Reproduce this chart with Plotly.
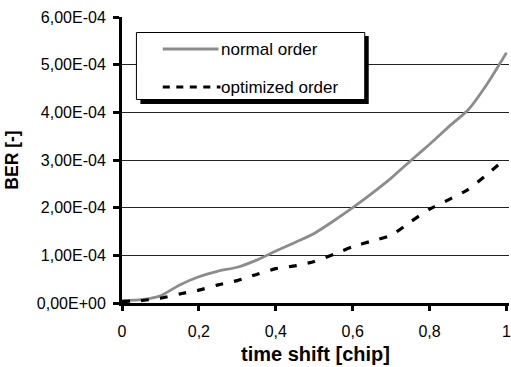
import plotly.graph_objects as go

# time shift in chips
time_shift = [0.00, 0.05, 0.10, 0.15, 0.20, 0.25, 0.30, 0.35, 0.40, 0.45, 0.50,
              0.55, 0.60, 0.65, 0.70, 0.75, 0.80, 0.85, 0.90, 0.95, 1.00]

# bit error rate for the two spreading-code orders
ber_normal = [0.5e-5, 0.7e-5, 1.5e-5, 3.8e-5, 5.5e-5, 6.7e-5, 7.5e-5, 9.0e-5, 10.9e-5, 12.7e-5, 14.6e-5,
              17.2e-5, 20.0e-5, 23.0e-5, 26.2e-5, 29.8e-5, 33.3e-5, 37.0e-5, 40.5e-5, 46.0e-5, 52.5e-5]
ber_optimized = [0.3e-5, 0.5e-5, 1.0e-5, 1.9e-5, 2.7e-5, 3.8e-5, 4.7e-5, 6.0e-5, 7.2e-5, 7.8e-5, 8.7e-5,
                 10.2e-5, 11.8e-5, 13.0e-5, 14.2e-5, 17.0e-5, 19.7e-5, 21.7e-5, 23.8e-5, 27.0e-5, 30.5e-5]

y_ticks = [0, 1e-4, 2e-4, 3e-4, 4e-4, 5e-4, 6e-4]
y_tick_labels = ["0,00E+00", "1,00E-04", "2,00E-04", "3,00E-04", "4,00E-04", "5,00E-04", "6,00E-04"]
x_ticks = [0, 0.2, 0.4, 0.6, 0.8, 1.0]
x_tick_labels = ["0", "0,2", "0,4", "0,6", "0,8", "1"]
series_names = ["normal order", "optimized order"]

W, H = 511, 367
ML, MR, MT, MB = 122, 0, 17, 64
PW, PH = W - ML - MR, H - MT - MB
FONT = "Liberation Sans, Arial, sans-serif"
GRAY = "#8c8c8c"


def px(xp):
    return (xp - ML) / PW


def py(yp):
    return (H - MB - yp) / PH


fig = go.Figure()
fig.add_trace(go.Scatter(x=time_shift, y=ber_normal, mode="lines", name=series_names[0],
                         line=dict(color=GRAY, width=2.8, shape="spline", smoothing=0.5),
                         showlegend=False))
fig.add_trace(go.Scatter(x=time_shift, y=ber_optimized, mode="lines", name=series_names[1],
                         line=dict(color="black", width=3.2, dash="8px,11px", shape="spline", smoothing=0.5),
                         showlegend=False))

# legend box with drop shadow
shapes = [
    dict(type="rect", xref="paper", yref="paper", x0=px(140.5), x1=px(370), y0=py(104), y1=py(36),
         fillcolor="black", line=dict(width=0)),
    dict(type="rect", xref="paper", yref="paper", x0=px(136.5), x1=px(366), y0=py(99.5), y1=py(32.5),
         fillcolor="white", line=dict(color="black", width=1)),
    dict(type="line", xref="paper", yref="paper", x0=px(163), x1=px(219), y0=py(49), y1=py(49),
         line=dict(color=GRAY, width=2.8)),
    dict(type="line", xref="paper", yref="paper", x0=px(163), x1=px(221), y0=py(87), y1=py(87),
         line=dict(color="black", width=3.2, dash="7px,6.5px")),
]
annotations = [
    dict(text=series_names[0], xref="paper", yref="paper", x=px(220), y=py(49), xanchor="left",
         yanchor="middle", showarrow=False, font=dict(family=FONT, size=17, color="black")),
    dict(text=series_names[1], xref="paper", yref="paper", x=px(220), y=py(87), xanchor="left",
         yanchor="middle", showarrow=False, font=dict(family=FONT, size=17, color="black")),
]

fig.update_layout(
    width=W, height=H,
    margin=dict(l=ML, r=MR, t=MT, b=MB),
    paper_bgcolor="white", plot_bgcolor="white",
    shapes=shapes, annotations=annotations,
    showlegend=False,
    xaxis=dict(
        range=[0, 1.0065], tickvals=x_ticks, ticktext=x_tick_labels,
        showgrid=False, zeroline=False,
        showline=True, linecolor="black", linewidth=3,
        ticks="outside", ticklen=5, tickwidth=2.5, tickcolor="black",
        tickfont=dict(family=FONT, size=16, color="black"),
        ticklabelstandoff=7, ticklabeloverflow="allow",
        title=dict(text="<b>time shift [chip]</b>", standoff=8,
                   font=dict(family=FONT, size=20, color="black")),
    ),
    yaxis=dict(
        range=[0, 6e-4], tickvals=y_ticks, ticktext=y_tick_labels,
        showgrid=True, gridcolor="#222222", gridwidth=1, zeroline=False,
        showline=True, linecolor="black", linewidth=3,
        ticks="outside", ticklen=6, tickwidth=2.5, tickcolor="black",
        tickfont=dict(family=FONT, size=16, color="black"),
        ticklabelstandoff=4,
        title=dict(text="<b>BER [-]</b>", standoff=14,
                   font=dict(family=FONT, size=17.5, color="black")),
    ),
)

fig.write_html("out.html")
